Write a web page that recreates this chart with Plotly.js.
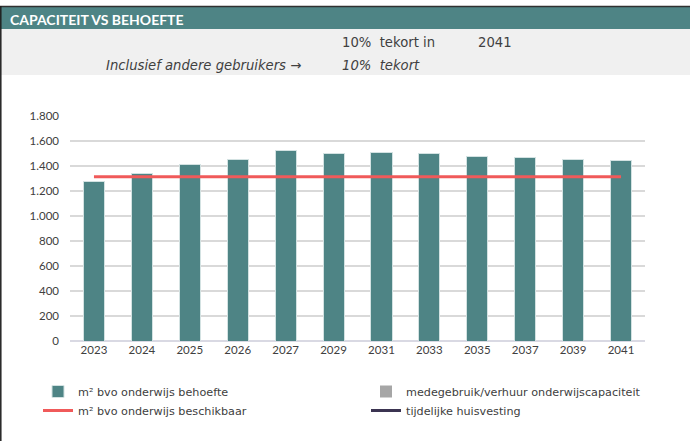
<!DOCTYPE html>
<html>
<head>
<meta charset="utf-8">
<script src="https://cdn.plot.ly/plotly-3.0.1.min.js"></script>
<style>html,body{margin:0;padding:0;background:#fff;}#chart{width:690px;height:441px;}</style>
</head>
<body>
<div id="chart"></div>
<script>
const years = ['2023','2024','2025','2026','2027','2029','2031','2033','2035','2037','2039','2041'];
const behoefte = [1278, 1341, 1411, 1454, 1523, 1504, 1509, 1504, 1480, 1470, 1454, 1443];
const medegebruik = [0, 0, 0, 0, 0, 0, 0, 0, 0, 0, 0, 0];
const beschikbaar = [1315, 1315, 1315, 1315, 1315, 1315, 1315, 1315, 1315, 1315, 1315, 1315];
const tijdelijk = [null, null, null, null, null, null, null, null, null, null, null, null];
const yTicks = [0, 200, 400, 600, 800, 1000, 1200, 1400, 1600, 1800];
const headerTitle = 'CAPACITEIT VS BEHOEFTE';
const line1 = ['10%  tekort in', '2041'];
const line2 = ['Inclusief andere gebruikers →', '10%  tekort'];

const FONT = 'Lato, "Open Sans", sans-serif';
const HFONT = '"DejaVu Sans", Lato, sans-serif';
const W = 690, H = 441, ML = 70, MR = 45, MT = 116, MB = 100;
const pw = W - ML - MR, ph = H - MT - MB;
const px = x => (x - ML) / pw;
const py = y => (H - MB - y) / ph;

const traces = [
  {type:'bar', name:'m² bvo onderwijs behoefte', x:years, y:behoefte, legend:'legend',
   marker:{color:'#4e8485', line:{color:'#d3e2e2', width:1}}, hoverinfo:'x+y'},
  {type:'bar', name:'medegebruik/verhuur onderwijscapaciteit', x:years, y:medegebruik, legend:'legend2',
   marker:{color:'#a6a6a6'}},
  {type:'scatter', mode:'lines', name:'m² bvo onderwijs beschikbaar', x:years, y:beschikbaar, legend:'legend',
   line:{color:'#f05a5a', width:3}},
  {type:'scatter', mode:'lines', name:'tijdelijke huisvesting', x:years, y:tijdelijk, legend:'legend2',
   line:{color:'#3b3451', width:3}}
];

const legendBase = {orientation:'v', yanchor:'top', y:py(377), xanchor:'left', traceorder:'normal',
  font:{family:HFONT, size:11.2, color:'#404040'}, bgcolor:'rgba(0,0,0,0)', tracegroupgap:0};

const layout = {
  width: W, height: H,
  margin:{l:ML, r:MR, t:MT, b:MB},
  paper_bgcolor:'#ffffff', plot_bgcolor:'#ffffff',
  barmode:'stack', bargap:0.56,
  separators:',.',
  font:{family:FONT, size:11, color:'#404040'},
  xaxis:{type:'category', showgrid:false, zeroline:false, showline:false,
         ticks:'', tickfont:{family:FONT, size:11.5, color:'#404040'}, fixedrange:true},
  yaxis:{range:[0,1800], tickvals:yTicks, separatethousands:true, tickformat:',d',
         showgrid:true, gridcolor:'#d9d9d9', gridwidth:1.5, zeroline:true, zerolinecolor:'#d9d9e3', zerolinewidth:1.5,
         ticks:'', ticklabelstandoff:10, tickfont:{family:FONT, size:11.5, color:'#404040'}, fixedrange:true},
  showlegend:true,
  legend:Object.assign({}, legendBase, {x:px(38)}),
  legend2:Object.assign({}, legendBase, {x:px(366)}),
  shapes:[
    {type:'rect', xref:'paper', yref:'paper', x0:px(0), x1:px(W), y0:py(29), y1:py(7), fillcolor:'#4e8485', line:{width:0}, layer:'below'},
    {type:'rect', xref:'paper', yref:'paper', x0:px(0), x1:px(W), y0:py(75), y1:py(29), fillcolor:'#f0f0f0', line:{width:0}, layer:'below'},
    {type:'line', xref:'paper', yref:'paper', x0:px(0), x1:px(W), y0:py(6.5), y1:py(6.5), line:{color:'#303030', width:1.5}},
    {type:'line', xref:'paper', yref:'paper', x0:px(0.8), x1:px(0.8), y0:py(6), y1:py(H), line:{color:'#202020', width:1.5}}
  ],
  annotations:[
    {xref:'paper', yref:'paper', x:px(8), y:py(19), xanchor:'left', yanchor:'middle', showarrow:false,
     text:'<b>'+headerTitle+'</b>', font:{family:'Lato', size:14, color:'#ffffff'}},
    {xref:'paper', yref:'paper', x:px(340), y:py(42), xanchor:'left', yanchor:'middle', showarrow:false,
     text:line1[0], font:{family:HFONT, size:13.2, color:'#404040'}},
    {xref:'paper', yref:'paper', x:px(476), y:py(42), xanchor:'left', yanchor:'middle', showarrow:false,
     text:line1[1], font:{family:HFONT, size:13.2, color:'#404040'}},
    {xref:'paper', yref:'paper', x:px(303), y:py(65), xanchor:'right', yanchor:'middle', showarrow:false,
     text:'<i>'+line2[0]+'</i>', font:{family:HFONT, size:13.2, color:'#404040'}},
    {xref:'paper', yref:'paper', x:px(340), y:py(65), xanchor:'left', yanchor:'middle', showarrow:false,
     text:'<i>'+line2[1]+'</i>', font:{family:HFONT, size:13.2, color:'#404040'}}
  ]
};

Plotly.newPlot('chart', traces, layout, {displayModeBar:false, staticPlot:true});
</script>
</body>
</html>
